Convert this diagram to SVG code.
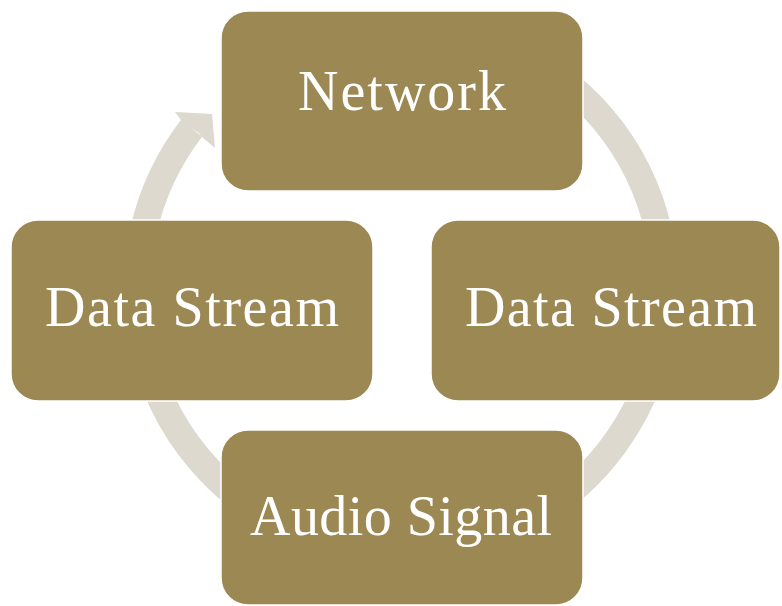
<svg xmlns="http://www.w3.org/2000/svg" width="782" height="606" viewBox="0 0 782 606">
  <style>
    .ring { fill: none; stroke: #DDD9CF; stroke-width: 27; stroke-linecap: butt; }
    .head { fill: #DDD9CF; }
    .box { fill: #9C8853; stroke: #FFFFFF; stroke-width: 1.5; }
    .lbl { fill: #FFFFFF; font-family: "Liberation Serif", "Times New Roman", serif; }
  </style>
  <rect width="782" height="606" fill="#FFFFFF"/>
  <g id="connectors">
    <path class="ring" d="M 355.16 29.01 A 264 264 0 1 1 191.55 128.28"/>
    <polygon class="head" points="183,123 181,120 175,112 212,114 215,148 202,137 199,133"/>
  </g>
  <g id="node-network">
    <rect class="box" x="221" y="11" width="362" height="180" rx="27" ry="27"/>
    <text class="lbl" x="298" y="110" font-size="56" textLength="208" lengthAdjust="spacing">Network</text>
  </g>
  <g id="node-data-stream-left">
    <rect class="box" x="11" y="220" width="362" height="181" rx="27" ry="27"/>
    <text class="lbl" x="45" y="326" font-size="56" textLength="294" lengthAdjust="spacing">Data Stream</text>
  </g>
  <g id="node-data-stream-right">
    <rect class="box" x="431" y="220" width="349" height="181" rx="27" ry="27"/>
    <text class="lbl" x="465" y="326" font-size="56" textLength="292" lengthAdjust="spacing">Data Stream</text>
  </g>
  <g id="node-audio-signal">
    <rect class="box" x="221" y="430" width="362" height="175" rx="27" ry="27"/>
    <text class="lbl" x="250" y="535" font-size="56" textLength="302" lengthAdjust="spacing">Audio Signal</text>
  </g>
</svg>
